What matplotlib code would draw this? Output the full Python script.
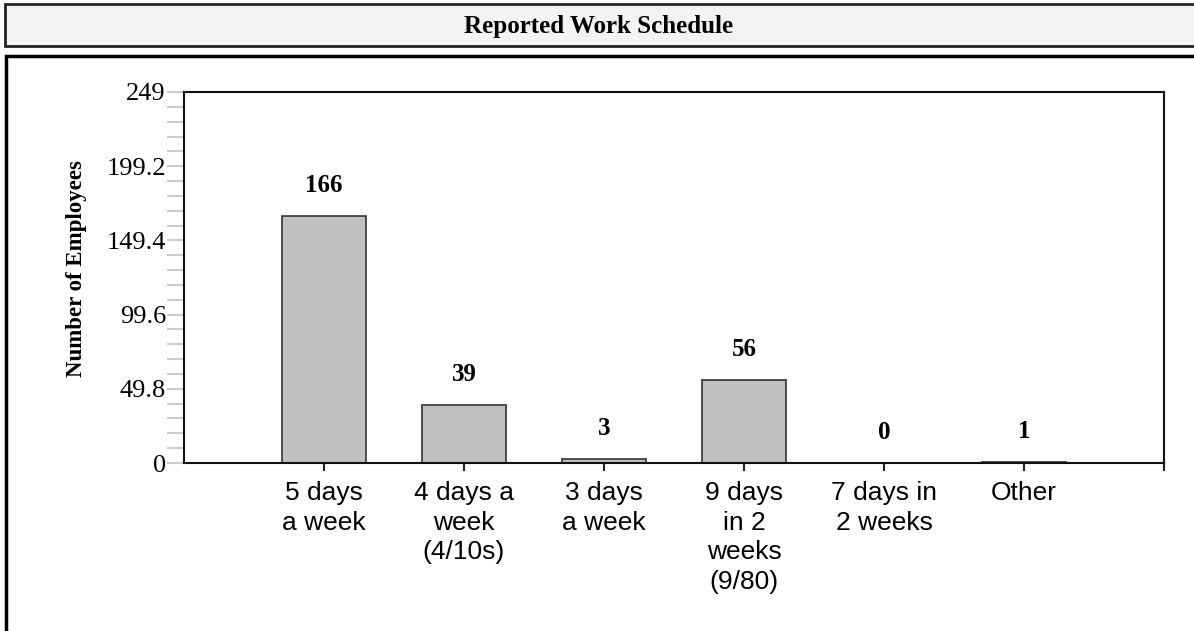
import matplotlib
matplotlib.use("Agg")
import matplotlib.pyplot as plt
from matplotlib.patches import Rectangle
import numpy as np

title = "Reported Work Schedule"
ylabel = "Number of Employees"
categories = ["5 days\na week", "4 days a\nweek\n(4/10s)", "3 days\na week",
              "9 days\nin 2\nweeks\n(9/80)", "7 days in\n2 weeks", "Other"]
values = [166, 39, 3, 56, 0, 1]
y_max = 249
y_ticks = [0, 49.8, 99.6, 149.4, 199.2, 249]
y_tick_labels = ["0", "49.8", "99.6", "149.4", "199.2", "249"]

W, H = 1194, 631
fig = plt.figure(figsize=(W / 100, H / 100), dpi=100)
fig.patch.set_facecolor("white")

# title box
fig.patches.append(Rectangle((5 / W, 1 - 46 / H), 1.2, 42 / H, transform=fig.transFigure,
                             facecolor="#f3f3f3", edgecolor="#222222", linewidth=2.0, zorder=-2))
fig.text(599 / W, 1 - 27 / H, title, ha="center", va="center",
         family="Liberation Serif", fontweight="bold", fontsize=18)
# main box
fig.patches.append(Rectangle((6 / W, -0.05), 1.2, 1 - 56 / H + 0.05, transform=fig.transFigure,
                             facecolor="none", edgecolor="black", linewidth=2.5, zorder=-2))

ax = fig.add_axes([184 / W, 1 - 463 / H, 980 / W, 371 / H])
ax.set_facecolor("white")
x = np.arange(len(categories))
bars = ax.bar(x, values, width=0.6, color="#c0c0c0", edgecolor="#333333", linewidth=1.2, zorder=2)
ax.set_xlim(-1, len(categories))
ax.set_ylim(0, y_max)

for xi, v in zip(x, values):
    ax.annotate(str(v), (xi, v), xytext=(0, 17), textcoords="offset points",
                ha="center", va="baseline", family="Liberation Serif",
                fontweight="bold", fontsize=18)

ax.set_yticks(y_ticks)
ax.set_yticklabels(y_tick_labels, family="Liberation Serif", fontsize=19)
ax.set_yticks(np.arange(0, y_max, y_ticks[1] / 5), minor=True)
ax.tick_params(axis="y", which="both", direction="out", length=12, width=1.5,
               color="#cccccc", pad=1)

ax.set_xticks(x)
ax.set_xticklabels(categories, family="Liberation Sans", fontsize=19, linespacing=1.3)
ax.set_xticks([len(categories)], minor=True)
ax.tick_params(axis="x", which="both", direction="out", length=6, width=1.5,
               color="#222222", pad=7)

for s in ax.spines.values():
    s.set_color("#111111")
    s.set_linewidth(1.5)

ax.set_ylabel(ylabel, family="Liberation Serif", fontweight="bold", fontsize=16.5, labelpad=0)
ax.yaxis.set_label_coords(-(184 - 87) / 980, 0.524)

fig.savefig("out.png", dpi=100, facecolor="white")
